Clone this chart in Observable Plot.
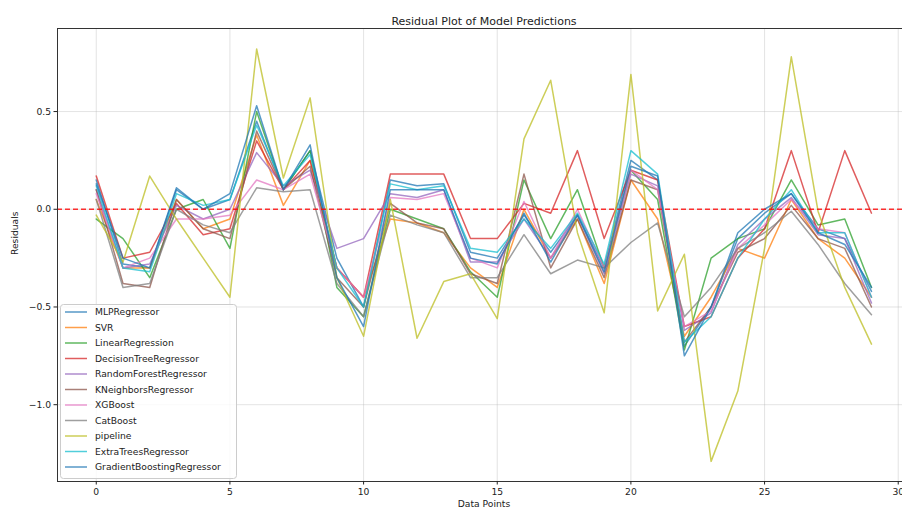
<!DOCTYPE html>
<html><head><meta charset="utf-8">
<script src="https://cdn.jsdelivr.net/npm/d3@7"></script>
<script src="https://cdn.jsdelivr.net/npm/@observablehq/plot@0.6"></script>
<style>body{margin:0;background:#fff;}</style>
</head><body><div id="chart"></div>
<script>
const models = ["MLPRegressor","SVR","LinearRegression","DecisionTreeRegressor","RandomForestRegressor","KNeighborsRegressor","XGBoost","CatBoost","pipeline","ExtraTreesRegressor","GradientBoostingRegressor"];
const colors = ["#1f77b4","#ff7f0e","#2ca02c","#d62728","#9467bd","#8c564b","#e377c2","#7f7f7f","#bcbd22","#17becf","#1f77b4"];
const xTicks = [0,5,10,15,20,25,30];
const yTicks = [-1.0,-0.5,0.0,0.5];

const MLPRegressor = [0.15,-0.28,-0.30,0.10,0.00,0.05,0.45,0.10,0.30,-0.25,-0.50,0.15,0.12,0.13,-0.22,-0.25,-0.03,-0.22,-0.03,-0.30,0.25,0.15,-0.70,-0.50,-0.15,-0.02,0.08,-0.10,-0.15,-0.42];
const SVR = [0.05,-0.30,-0.30,0.05,-0.10,-0.05,0.38,0.02,0.25,-0.30,-0.45,-0.05,-0.07,-0.12,-0.30,-0.40,0.00,-0.25,-0.05,-0.38,0.15,-0.05,-0.65,-0.45,-0.20,-0.25,0.05,-0.15,-0.25,-0.45];
const LinearRegression = [-0.05,-0.15,-0.35,0.00,0.05,-0.20,0.50,0.10,0.30,-0.40,-0.55,0.00,-0.05,-0.10,-0.32,-0.45,0.15,-0.15,0.10,-0.30,0.20,0.05,-0.72,-0.25,-0.15,-0.10,0.15,-0.08,-0.05,-0.40];
const DecisionTreeRegressor = [0.17,-0.25,-0.22,0.03,-0.13,-0.10,0.35,0.10,0.25,-0.30,-0.45,0.18,0.18,0.18,-0.15,-0.15,0.03,-0.02,0.30,-0.15,0.20,0.15,-0.60,-0.55,-0.25,-0.10,0.30,-0.12,0.30,-0.02];
const RandomForestRegressor = [0.10,-0.30,-0.28,0.02,-0.05,0.00,0.29,0.12,0.20,-0.20,-0.15,0.08,0.06,0.10,-0.27,-0.27,-0.05,-0.25,-0.03,-0.33,0.18,0.12,-0.62,-0.53,-0.18,-0.05,0.06,-0.13,-0.15,-0.48];
const KNeighborsRegressor = [0.10,-0.38,-0.40,0.05,-0.10,-0.15,0.40,0.10,0.22,-0.35,-0.50,0.03,-0.07,-0.10,-0.33,-0.38,0.18,-0.30,-0.05,-0.35,0.15,0.10,-0.68,-0.50,-0.22,-0.15,0.02,-0.15,-0.20,-0.50];
const XGBoost = [0.08,-0.30,-0.25,-0.05,-0.05,-0.03,0.15,0.10,0.18,-0.30,-0.45,0.06,0.05,0.08,-0.25,-0.30,0.04,-0.25,0.00,-0.30,0.20,0.10,-0.60,-0.52,-0.20,-0.08,0.05,-0.10,-0.12,-0.45];
const CatBoost = [0.05,-0.40,-0.38,0.00,-0.08,-0.12,0.11,0.09,0.10,-0.38,-0.55,-0.03,-0.08,-0.12,-0.35,-0.35,-0.13,-0.33,-0.26,-0.30,-0.17,-0.07,-0.55,-0.40,-0.20,-0.12,-0.01,-0.18,-0.38,-0.54];
const pipeline = [-0.03,-0.27,0.17,-0.05,-0.25,-0.45,0.82,0.16,0.57,-0.35,-0.65,0.05,-0.66,-0.37,-0.33,-0.56,0.36,0.66,-0.12,-0.53,0.69,-0.52,-0.23,-1.29,-0.93,-0.20,0.78,-0.01,-0.40,-0.69];
const ExtraTreesRegressor = [0.12,-0.30,-0.32,0.08,0.02,0.05,0.43,0.12,0.28,-0.30,-0.50,0.13,0.10,0.12,-0.20,-0.22,-0.05,-0.20,-0.02,-0.28,0.30,0.18,-0.68,-0.55,-0.25,-0.05,0.10,-0.12,-0.12,-0.45];
const GradientBoostingRegressor = [0.13,-0.25,-0.30,0.11,0.00,0.08,0.53,0.10,0.33,-0.35,-0.60,0.10,0.10,0.10,-0.25,-0.28,-0.02,-0.27,-0.03,-0.32,0.22,0.17,-0.75,-0.50,-0.12,0.00,0.08,-0.12,-0.18,-0.40];

const series = [MLPRegressor,SVR,LinearRegression,DecisionTreeRegressor,RandomForestRegressor,KNeighborsRegressor,XGBoost,CatBoost,pipeline,ExtraTreesRegressor,GradientBoostingRegressor];
const rows = [];
series.forEach((vals, k) => vals.forEach((r, i) => rows.push({model: models[k], i, r})));

const fmt = d => d.toFixed(1).replace("-", "\u2212");
const font = "DejaVu Sans";

const svg = Plot.plot({
  width: 902, height: 512,
  marginLeft: 57, marginRight: 0, marginTop: 28, marginBottom: 31,
  style: {fontFamily: font, fontSize: "9.2px", background: "white", color: "#222"},
  x: {domain: [-1.45, 30.16]},
  y: {domain: [-1.393, 0.925]},
  color: {domain: models, range: colors},
  marks: [
    Plot.gridX(xTicks, {stroke: "#b0b0b0", strokeOpacity: 0.45, strokeWidth: 0.8}),
    Plot.gridY(yTicks, {stroke: "#b0b0b0", strokeOpacity: 0.45, strokeWidth: 0.8}),
    Plot.lineY(rows, {x: "i", y: "r", z: "model", stroke: "model", strokeWidth: 1.5, strokeOpacity: 0.75}),
    Plot.ruleY([0], {stroke: "#ff0000", strokeOpacity: 0.8, strokeDasharray: "5,3", strokeWidth: 1.4}),
    Plot.frame({stroke: "#333", strokeWidth: 1}),
    Plot.axisX(xTicks, {tickSize: 3.5, tickPadding: 3, label: null}),
    Plot.axisY(yTicks, {tickSize: 3.5, tickPadding: 3, tickFormat: fmt, label: null}),
    Plot.text(["Residual Plot of Model Predictions"], {frameAnchor: "top", dy: -11, dx: 4, fontSize: 11, fill: "#222"}),
    Plot.text(["Data Points"], {frameAnchor: "bottom", dy: 25, dx: 4, fontSize: 9.2, fill: "#222"}),
    Plot.text(["Residuals"], {frameAnchor: "left", dx: -42, rotate: -90, fontSize: 9.2, fill: "#222"})
  ]
});

// legend (lower left, inside the axes)
const g = d3.select(svg).append("g").attr("font-family", font).attr("font-size", 9.2).attr("text-anchor", "start");
g.append("rect").attr("x", 60.5).attr("y", 304.5).attr("width", 176).attr("height", 174)
  .attr("rx", 3).attr("fill", "white").attr("fill-opacity", 0.8).attr("stroke", "#cccccc");
models.forEach((m, k) => {
  const yy = 312 + k * 15.5;
  g.append("line").attr("x1", 65).attr("x2", 87).attr("y1", yy).attr("y2", yy)
    .attr("stroke", colors[k]).attr("stroke-width", 1.5).attr("stroke-opacity", 0.75);
  g.append("text").attr("x", 95).attr("y", yy).attr("dy", "0.35em").attr("text-anchor", "start").attr("fill", "#222").text(m);
});

document.getElementById("chart").appendChild(svg);
</script>
</body></html>
